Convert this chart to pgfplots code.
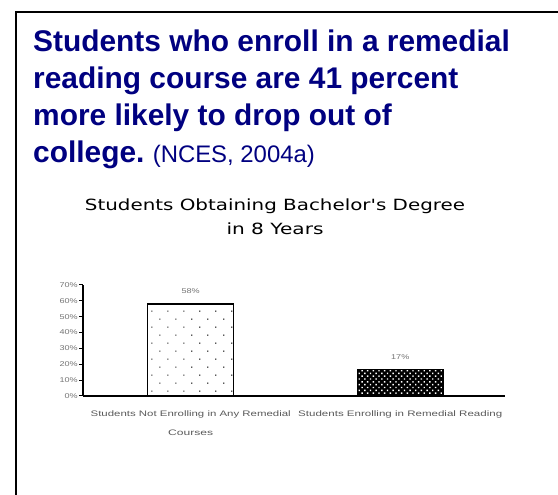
\documentclass[border=0pt]{standalone}
\usepackage{pgfplots}
\pgfplotsset{compat=1.18}
\usepackage{fontspec}
\setmainfont{Liberation Sans}
\newfontfamily\titlefont{DejaVu Sans}
\usetikzlibrary{patterns,patterns.meta}
\definecolor{navy}{HTML}{000080}
\begin{document}
\begin{tikzpicture}[x=1bp,y=1bp]
\useasboundingbox (0,0) rectangle (558,495);
\draw[line width=2bp] (15.5,0) -- (15.5,483) -- (558,483);
% heading
\begin{scope}[every node/.style={anchor=base west, inner sep=0pt, text=navy}]
\node at (33,443) {\fontsize{30}{36}\selectfont\bfseries Students who enroll in a remedial};
\node at (33,406) {\fontsize{30}{36}\selectfont\bfseries reading course are 41 percent};
\node at (33,369) {\fontsize{30}{36}\selectfont\bfseries more likely to drop out of};
\node at (33,332) {\fontsize{30}{36}\selectfont\bfseries college.\ \fontsize{24}{28}\selectfont\mdseries (NCES, 2004a)};
\end{scope}
% chart title
\node[anchor=base, inner sep=0pt, text=black] at (275,284) {\titlefont\fontsize{15.5}{18}\selectfont\resizebox{380bp}{\height}{Students Obtaining Bachelor's Degree}};
\node[anchor=base, inner sep=0pt, text=black] at (275,260) {\titlefont\fontsize{15.5}{18}\selectfont\resizebox{97bp}{\height}{in 8 Years}};
\begin{axis}[
  at={(83bp,99bp)}, anchor=south west,
  scale only axis, width=422bp, height=111bp,
  xmin=-0.514, xmax=1.5, ymin=0, ymax=70,
  axis x line*=bottom, axis y line*=left,
  axis line style={-, line width=1.5bp},
  ytick={0,10,...,70},
  yticklabel={\scalebox{1.3}[1]{\pgfmathprintnumber{\tick}\%}},
  yticklabel style={font=\fontsize{7}{8}\selectfont, text=black!55, inner sep=1bp},
  /pgf/number format/assume math mode=true,
  tick align=outside, major tick length=4bp,
  y tick style={black, line width=1bp},
  xtick={0,1},
  x tick style={draw=none},
  xticklabels={{\resizebox{200bp}{\height}{Students Not Enrolling in Any Remedial}\\\resizebox{45bp}{\height}{Courses}},{\resizebox{204bp}{\height}{Students Enrolling in Remedial Reading}}},
  xticklabel style={align=center, font=\fontsize{8}{19}\selectfont, text=black!65, anchor=north, yshift=-7bp},
  ybar, bar width=86bp,
  nodes near coords={\scalebox{1.3}[1]{\pgfmathprintnumber{\pgfplotspointmeta}\%}},
  every node near coord/.append style={font=\fontsize{7}{8}\selectfont, text=black!55, anchor=south, yshift=6bp},
  clip=false,
]
\addplot[bar shift=0pt, draw=black, line width=1.5bp, fill=white,
  postaction={pattern={Dots[distance=11.3bp, angle=45, radius=0.75bp]}, pattern color=black}]
  coordinates {(0,58)};
\addplot[bar shift=0pt, draw=black, line width=1bp, fill=black,
  postaction={pattern={Dots[distance=4bp, angle=45, radius=1bp]}, pattern color=white}]
  coordinates {(1,17)};
\end{axis}
\end{tikzpicture}
\end{document}
